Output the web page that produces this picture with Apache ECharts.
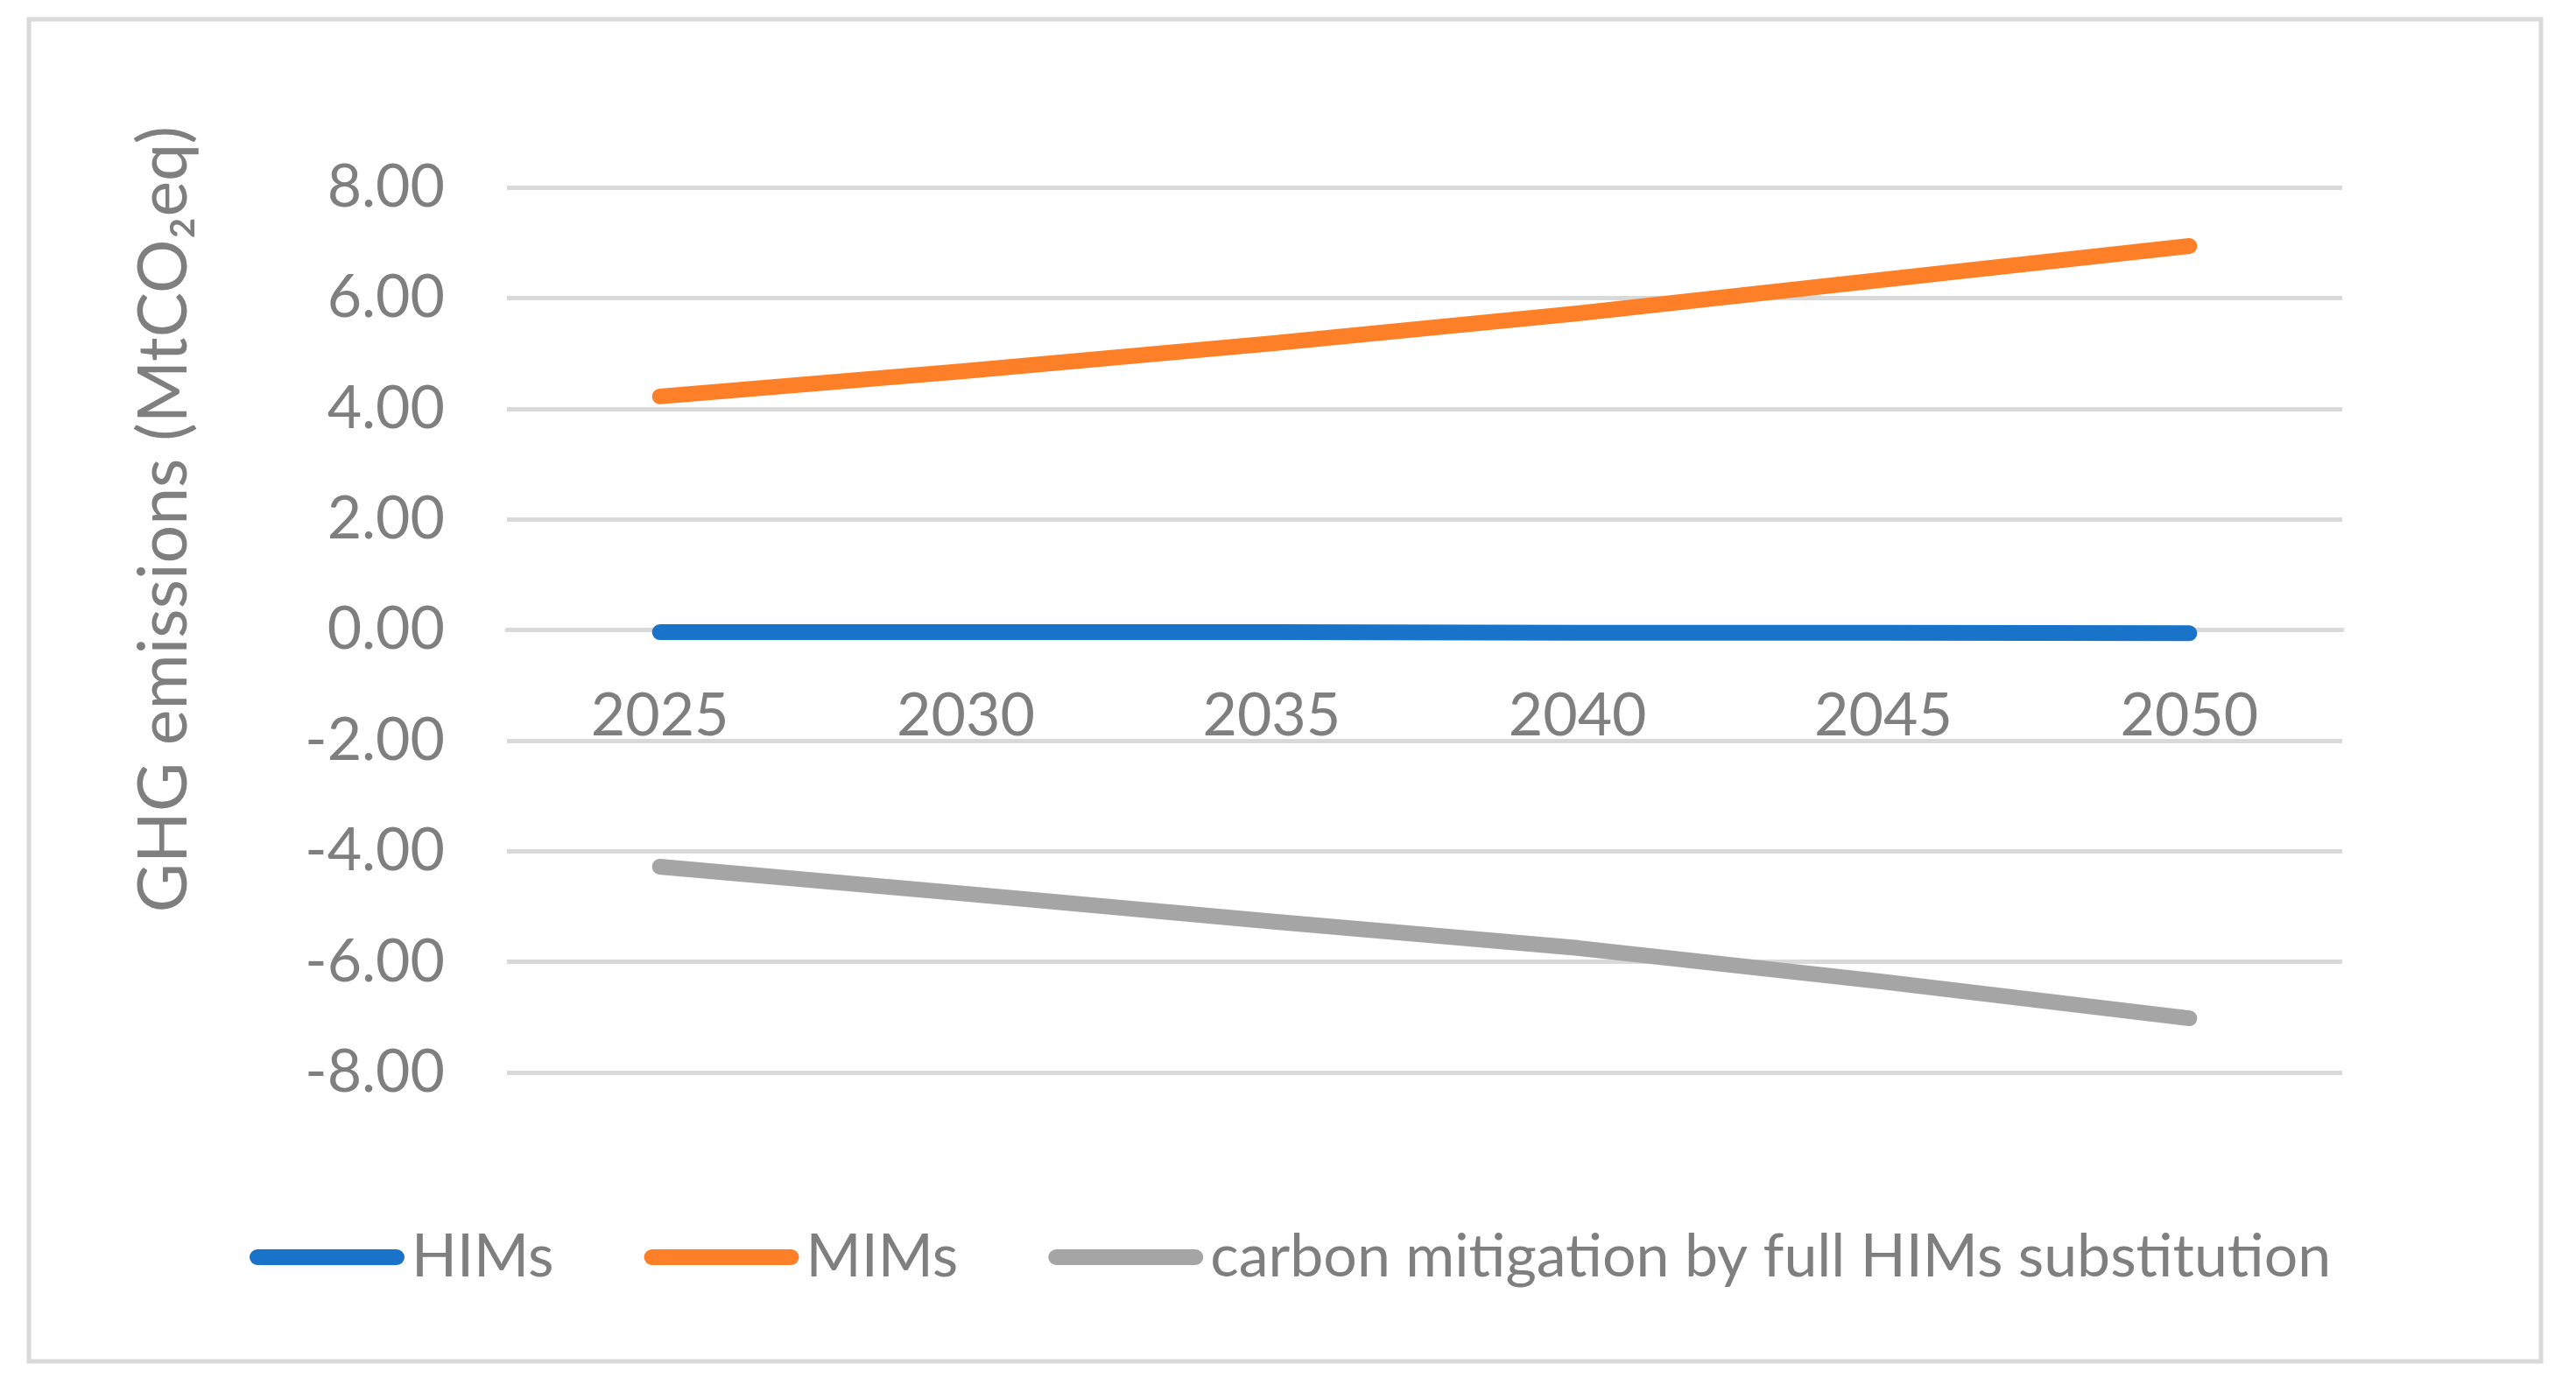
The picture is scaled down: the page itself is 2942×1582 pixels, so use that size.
<!DOCTYPE html>
<html>
<head>
<meta charset="utf-8">
<script src="https://cdn.jsdelivr.net/npm/echarts@6/dist/echarts.min.js"></script>
<style>
html,body{margin:0;padding:0;background:#fff;}
#chart{width:2942px;height:1582px;}
</style>
</head>
<body>
<div id="chart"></div>
<script>
const categories = ['2025','2030','2035','2040','2045','2050'];
const seriesNames = ['HIMs','MIMs','carbon mitigation by full HIMs substitution'];
const himsValues = [-0.04,-0.04,-0.04,-0.05,-0.05,-0.06];
const mimsValues = [4.22,4.68,5.18,5.72,6.33,6.94];
const mitigationValues = [-4.28,-4.77,-5.27,-5.75,-6.36,-7.02];
const yAxisTitle = 'GHG emissions (MtCO\u2082eq)';

const FONT = 'Lato';
const TXT = '#7f7f7f';
const GRID = '#d9d9d9';
const legendIcon = 'path://M9,0 L168,0 A9,9 0 0 1 168,18 L9,18 A9,9 0 0 1 9,0 Z';

const chart = echarts.init(document.getElementById('chart'));
function lineSeries(name, data, color, z) {
  return {
    name: name, type: 'line', data: data, symbol: 'none', z: z,
    itemStyle: {color: color},
    lineStyle: {color: color, width: 18, cap: 'round', join: 'round'},
    emphasis: {disabled: true}
  };
}
chart.setOption({
  animation: false,
  backgroundColor: '#ffffff',
  textStyle: {fontFamily: FONT},
  grid: {left: 579, right: 267, top: 214, bottom: 357, containLabel: false},
  xAxis: {
    type: 'category', data: categories, boundaryGap: true,
    offset: -506,
    axisLine: {show: true, onZero: false, lineStyle: {color: GRID, width: 5}},
    axisTick: {show: false},
    axisLabel: {color: TXT, fontSize: 68, fontFamily: FONT, margin: 65}
  },
  yAxis: {
    type: 'value', min: -8, max: 8, interval: 2,
    axisLine: {show: false}, axisTick: {show: false},
    splitLine: {lineStyle: {color: GRID, width: 5}},
    axisLabel: {color: TXT, fontSize: 68, fontFamily: FONT, margin: 71,
      formatter: v => v.toFixed(2)}
  },
  legend: {
    left: 280, top: 1397, icon: legendIcon,
    itemWidth: 177, itemHeight: 18, itemGap: 103,
    textStyle: {color: TXT, fontSize: 68, fontFamily: FONT, padding: [0,0,0,3]},
    data: seriesNames
  },
  graphic: [
    {type: 'rect', silent: true, shape: {x: 33, y: 22, width: 2869, height: 1533},
     style: {fill: 'none', stroke: GRID, lineWidth: 5}},
    {type: 'text', silent: true, x: 188, y: 593, rotation: Math.PI / 2,
     style: {text: yAxisTitle, fill: TXT, font: '77px Lato', align: 'center', verticalAlign: 'middle'}}
  ],
  series: [
    lineSeries(seriesNames[2], mitigationValues, '#a5a5a5', 2),
    lineSeries(seriesNames[1], mimsValues, '#fd7f27', 3),
    lineSeries(seriesNames[0], himsValues, '#1873c9', 4)
  ]
});
</script>
</body>
</html>
